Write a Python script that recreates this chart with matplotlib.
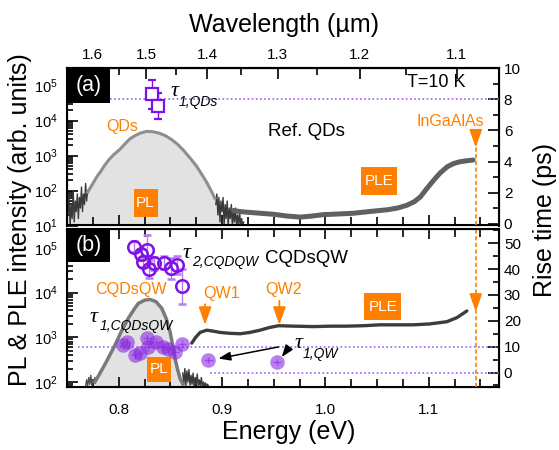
import numpy as np
import matplotlib.pyplot as plt
from matplotlib.patches import Rectangle
from matplotlib.ticker import MultipleLocator, FixedLocator, NullFormatter

plt.rcParams['font.family'] = ['Liberation Sans', 'DejaVu Sans']
plt.rcParams['mathtext.fontset'] = 'custom'
plt.rcParams['mathtext.rm'] = 'Liberation Sans'
plt.rcParams['mathtext.it'] = 'Liberation Sans:italic'

# ---------------- data (energy in eV, intensity as log10, times in ps)
# (a) reference QDs
pl_a_noise_l_E = [0.751, 0.752, 0.753, 0.754, 0.755, 0.756, 0.757, 0.758, 0.759, 0.760,
                  0.761, 0.762, 0.763, 0.764, 0.765, 0.766, 0.767, 0.768, 0.769, 0.770]
pl_a_noise_l_logI = [1.3, 1.9, 1.0, 1.6, 1.2, 2.0, 1.1, 1.7, 1.4, 1.9,
                     1.2, 1.8, 1.5, 2.1, 1.4, 1.9, 1.6, 2.2, 1.7, 2.0]
pl_a_E = [0.770, 0.773, 0.776, 0.779, 0.782, 0.786, 0.790, 0.795, 0.801, 0.806, 0.811, 0.816, 0.821,
          0.827, 0.833, 0.839, 0.845, 0.851, 0.857, 0.863, 0.869, 0.875, 0.880, 0.885, 0.889, 0.893]
pl_a_logI = [1.95, 2.10, 2.25, 2.40, 2.52, 2.70, 2.86, 3.02, 3.17, 3.33, 3.48, 3.57, 3.64,
             3.69, 3.68, 3.64, 3.57, 3.46, 3.32, 3.14, 2.93, 2.71, 2.48, 2.24, 2.02, 1.78]
pl_a_noise_r_E = [0.894, 0.895, 0.896, 0.897, 0.898, 0.899, 0.900, 0.901, 0.902, 0.903, 0.904, 0.905,
                  0.906, 0.907, 0.908, 0.909, 0.910, 0.911, 0.912, 0.913, 0.914, 0.915, 0.916, 0.917,
                  0.918, 0.919, 0.920, 0.921]
pl_a_noise_r_logI = [1.6, 1.9, 1.3, 1.8, 1.1, 1.7, 1.4, 1.8, 1.0, 1.6, 1.2, 1.7,
                     1.0, 1.5, 1.2, 1.6, 1.0, 1.4, 1.1, 1.5, 1.0, 1.3, 1.0, 1.4,
                     1.0, 1.2, 1.0, 1.1]
ple_a_E = [0.911, 0.917, 0.924, 0.937, 0.950, 0.963, 0.976, 0.987, 0.998, 1.013, 1.027, 1.043,
           1.060, 1.070, 1.079, 1.086, 1.092, 1.098, 1.105, 1.111, 1.118, 1.124, 1.130, 1.137, 1.143]
ple_a_logI = [1.43, 1.40, 1.38, 1.35, 1.32, 1.27, 1.24, 1.27, 1.31, 1.33, 1.35, 1.40,
              1.45, 1.50, 1.58, 1.68, 1.82, 2.05, 2.30, 2.50, 2.68, 2.77, 2.82, 2.85, 2.87]
tau1_qd_E = [0.832, 0.838]
tau1_qd_ps = [8.32, 7.57]
tau1_qd_err = [0.93, 0.82]

# (b) CQDsQW
pl_b_noise_l_E = [0.768, 0.769, 0.770, 0.771, 0.772, 0.773, 0.774, 0.775, 0.776, 0.777]
pl_b_noise_l_logI = [1.90, 2.05, 1.92, 2.10, 1.95, 2.15, 1.93, 2.05, 2.00, 2.10]
pl_b_E = [0.777, 0.782, 0.788, 0.7965, 0.803, 0.8094, 0.815, 0.819, 0.825, 0.830, 0.836,
          0.8417, 0.846, 0.8497, 0.852, 0.8545, 0.857, 0.8594, 0.862]
pl_b_logI = [2.0, 2.2, 2.45, 2.83, 3.15, 3.43, 3.63, 3.76, 3.83, 3.85, 3.80,
             3.65, 3.42, 3.13, 2.85, 2.53, 2.28, 2.08, 1.95]
pl_b_noise_r_E = [0.862, 0.863, 0.864, 0.865, 0.866, 0.867, 0.868, 0.869, 0.870, 0.871, 0.872, 0.873, 0.874,
                  0.875, 0.876, 0.877, 0.878, 0.879, 0.880, 0.881, 0.882, 0.883, 0.884, 0.885, 0.886, 0.887]
pl_b_noise_r_logI = [2.2, 1.95, 2.3, 1.92, 2.25, 2.0, 2.28, 1.93, 2.15, 1.95, 2.2, 1.9, 2.1,
                     1.95, 2.18, 1.9, 2.05, 1.92, 2.1, 1.9, 2.0, 1.9, 1.98, 1.9, 1.95, 1.9]
ple_b_E = [0.8707, 0.8745, 0.8788, 0.8852, 0.891, 0.8981, 0.9075, 0.9175, 0.927, 0.9368, 0.946, 0.9546,
           0.970, 0.9884, 1.005, 1.0208, 1.037, 1.053, 1.069, 1.0852, 1.101, 1.1176, 1.1272, 1.1369]
ple_b_logI = [2.87, 3.00, 3.11, 3.16, 3.14, 3.11, 3.09, 3.08, 3.11, 3.16, 3.22, 3.26,
              3.25, 3.24, 3.25, 3.25, 3.26, 3.28, 3.28, 3.28, 3.30, 3.35, 3.44, 3.59]
tau2_E = [0.8152, 0.8271, 0.8216, 0.8239, 0.8345, 0.8297, 0.8442, 0.8507, 0.8562, 0.8616]
tau2_ps = [48.7, 47.4, 45.7, 42.9, 42.2, 39.9, 42.5, 40.3, 41.6, 33.4]
tau2_err = [2.0, 5.8, 2.0, 2.0, 2.5, 3.5, 2.5, 4.0, 3.5, 6.8]
tau1_cqd_E = [0.8045, 0.8078, 0.8158, 0.8207, 0.8271, 0.8287, 0.8362, 0.8432, 0.8475, 0.8546, 0.8616]
tau1_cqd_ps = [10.6, 11.9, 6.7, 7.4, 13.2, 9.9, 11.9, 9.9, 9.0, 8.0, 10.9]
tau1_qw_E = [0.8868, 0.953]
tau1_qw_ps = [4.8, 4.1]

inGaAlAs_E = 1.1455
qw1_E, qw2_E = 0.8836, 0.9555

orange = '#ff8000'
purple = '#8010e8'
violet = '#8a2be2'
dotc = '#a060f0'

# ---------------- figure
W, H = 559, 450
fig = plt.figure(figsize=(W / 100, H / 100), dpi=100)
ax_a = fig.add_axes([67 / W, 1 - 225.5 / H, 432 / W, 157.5 / H])
ax_b = fig.add_axes([67 / W, 1 - 387 / H, 432 / W, 158 / H])
ax_ar = ax_a.twinx()
ax_br = ax_b.twinx()

for ax in (ax_a, ax_b):
    ax.set_yscale('log')
    ax.set_xlim(0.75, 1.168)
    ax.xaxis.set_major_locator(FixedLocator([0.8, 0.9, 1.0, 1.1]))
    ax.xaxis.set_minor_locator(MultipleLocator(0.025))
    ax.tick_params(axis='x', which='both', direction='in', top=(ax is ax_b), bottom=True,
                   labelsize=11, pad=11.5, width=1.2)
    ax.tick_params(axis='x', which='major', length=7)
    ax.tick_params(axis='x', which='minor', length=6)
    ax.tick_params(axis='y', which='both', direction='in', right=False, labelsize=10.5, pad=7, width=1.2)
    ax.tick_params(axis='y', which='major', length=8)
    ax.tick_params(axis='y', which='minor', length=4.5)
    for s in ax.spines.values():
        s.set_linewidth(1.5)
ax_a.set_ylim(10, 10 ** 5.5)
ax_b.set_ylim(10 ** 1.888, 10 ** 5.425)
ax_a.tick_params(axis='x', labelbottom=False)

ax_ar.set_ylim(-0.1, 10)
ax_ar.yaxis.set_major_locator(MultipleLocator(2))
ax_ar.yaxis.set_minor_locator(MultipleLocator(1))
ax_br.set_ylim(-5.6, 55.5)
ax_br.yaxis.set_major_locator(MultipleLocator(10))
ax_br.yaxis.set_minor_locator(MultipleLocator(5))
for ax in (ax_ar, ax_br):
    ax.tick_params(axis='y', which='both', direction='in', labelsize=11, pad=3.5, width=1.2)
    ax.tick_params(axis='y', which='major', length=8)
    ax.tick_params(axis='y', which='minor', length=4.5)
    ax.set_xlim(0.75, 1.168)

# top wavelength axis
secax = ax_a.secondary_xaxis('top', functions=(lambda e: 1.2398 / np.clip(e, 0.1, None),
                                               lambda l: 1.2398 / np.clip(l, 0.1, None)))
secax.xaxis.set_major_locator(FixedLocator([1.1, 1.2, 1.3, 1.4, 1.5, 1.6]))
secax.xaxis.set_minor_locator(FixedLocator([1.15, 1.25, 1.35, 1.45, 1.55]))
secax.xaxis.set_minor_formatter(NullFormatter())
secax.tick_params(which='both', direction='in', labelsize=11, pad=4, width=1.2)
secax.tick_params(which='major', length=8)
secax.tick_params(which='minor', length=5)
secax.spines['top'].set_linewidth(1.5)


def fill_pl(ax, E, logI, bottom):
    ax.fill_between(E, 10 ** np.array(logI), bottom, color='#e2e2e2', lw=0, zorder=1)


# ---------------- panel (a)
E_all = pl_a_noise_l_E + pl_a_E + pl_a_noise_r_E
L_all = pl_a_noise_l_logI + pl_a_logI + pl_a_noise_r_logI
fill_pl(ax_a, E_all, L_all, 10)
ax_a.plot(pl_a_noise_l_E, 10 ** np.array(pl_a_noise_l_logI), color='#3a3a3a', lw=1.0, zorder=2)
ax_a.plot(pl_a_noise_r_E, 10 ** np.array(pl_a_noise_r_logI), color='#3a3a3a', lw=1.0, zorder=2)
ax_a.plot(pl_a_E, 10 ** np.array(pl_a_logI), color='#8e8e8e', lw=2.2, zorder=3)
ax_a.plot(ple_a_E, 10 ** np.array(ple_a_logI), color='#606060', lw=3.6, solid_capstyle='round', zorder=3)

# ---------------- panel (b)
E_all = pl_b_noise_l_E + pl_b_E + pl_b_noise_r_E
L_all = pl_b_noise_l_logI + pl_b_logI + pl_b_noise_r_logI
fill_pl(ax_b, E_all, L_all, 10 ** 1.888)
ax_b.plot(pl_b_noise_l_E, 10 ** np.array(pl_b_noise_l_logI), color='#505050', lw=1.0, zorder=2)
ax_b.plot(pl_b_noise_r_E, 10 ** np.array(pl_b_noise_r_logI), color='#3a3a3a', lw=1.0, zorder=2)
ax_b.plot(pl_b_E, 10 ** np.array(pl_b_logI), color='#7a7a7a', lw=2.5, zorder=3)
ax_b.plot(ple_b_E, 10 ** np.array(ple_b_logI), color='#3c3c3c', lw=2.4, solid_capstyle='round', zorder=3)

# dotted reference lines
ax_ar.plot([0.792, 1.168], [8, 8], color=dotc, lw=1.2, ls=(0, (1, 1.5)))
ax_br.plot([0.7606, 1.168], [10, 10], color=dotc, lw=1.2, ls=(0, (1, 1.5)))
ax_br.plot([0.8884, 1.168], [0, 0], color=dotc, lw=1.2, ls=(0, (1, 1.5)))

# rise time markers
ax_ar.errorbar(tau1_qd_E, tau1_qd_ps, yerr=tau1_qd_err, xerr=0.005, fmt='s', ms=8, mfc='white',
               mec=purple, mew=1.6, ecolor=purple, elinewidth=1.0, capsize=3, zorder=5)
ax_br.errorbar(tau2_E, tau2_ps, yerr=tau2_err, fmt='o', ms=9, mfc='none', mec=purple, mew=1.8,
               ecolor='#b080f0', elinewidth=1.0, capsize=3, zorder=5)
ax_br.errorbar(tau1_cqd_E, tau1_cqd_ps, yerr=1.5, xerr=0.004, fmt='o', ms=10.5, color=violet,
               alpha=0.6, mew=0, elinewidth=1.0, capsize=0, zorder=5)
ax_br.errorbar(tau1_qw_E, tau1_qw_ps, yerr=1.2, xerr=0.004, fmt='o', ms=10.5, color=violet,
               alpha=0.6, mew=0, elinewidth=1.0, capsize=0, zorder=5)


def tau_label(ax, x, y, sub, dx, dy):
    ax.text(x, y, '\u03c4', fontsize=16, family=['Liberation Serif', 'DejaVu Serif'], style='italic',
            ha='center', va='center', zorder=6)
    ax.annotate(sub, xy=(x, y), xytext=(dx, dy), textcoords='offset points', fontsize=10,
                style='italic', ha='left', va='center', zorder=6)


tau_label(ax_ar, 0.8536, 8.5, '1,QDs', 3.5, -7.5)
tau_label(ax_br, 0.8655, 46.2, '2,CQDQW', 4, -6.5)
tau_label(ax_br, 0.776, 21.2, '1,CQDsQW', 4, -6)
tau_label(ax_br, 0.9736, 11.2, '1,QW', 3.5, -7.5)

arrow_k = dict(arrowstyle='-|>,head_length=0.6,head_width=0.22', color='black',
               lw=1.1, mutation_scale=12, shrinkA=0, shrinkB=0)
ax_br.annotate('', xy=(0.8965, 5.4), xytext=(0.9546, 9.9), arrowprops=arrow_k)
ax_br.annotate('', xy=(0.9578, 6.0), xytext=(0.964, 9.3), arrowprops=arrow_k)


def tag_box(ax, x, y, w, h, label, fs=11):
    cx, cy = ax.transAxes.inverted().transform(ax.transData.transform((x, y)))
    wa, ha_ = w / ax.bbox.width, h / ax.bbox.height
    ax.add_patch(Rectangle((cx - wa / 2, cy - ha_ / 2), wa, ha_, transform=ax.transAxes,
                           facecolor=orange, edgecolor='none', zorder=7))
    ax.text(cx, cy, label, transform=ax.transAxes, color='white', fontsize=fs,
            ha='center', va='center', zorder=8)


def panel_tag(ax, label, h):
    wa, ha_ = 43 / ax.bbox.width, h / ax.bbox.height
    ax.add_patch(Rectangle((0, 1 - ha_), wa, ha_, transform=ax.transAxes, facecolor='black',
                           edgecolor='none', zorder=9, clip_on=False))
    ax.text(wa / 2, 1 - ha_ / 2, label, transform=ax.transAxes, color='white', fontsize=15.5,
            ha='center', va='center', zorder=10)


tag_box(ax_a, 0.826, 10 ** 1.65, 24, 28, 'PL')
tag_box(ax_a, 1.0518, 10 ** 2.27, 36, 28, 'PLE')
tag_box(ax_b, 0.8389, 10 ** 2.29, 24, 25, 'PL')
tag_box(ax_b, 1.0556, 10 ** 3.69, 37, 27, 'PLE')
panel_tag(ax_ar, '(a)', 35)
panel_tag(ax_br, '(b)', 33)

# text labels
ax_a.text(0.8037, 10 ** 3.83, 'QDs', color=orange, fontsize=11.5, ha='center', va='center')
ax_a.text(0.982, 10 ** 3.69, 'Ref. QDs', color='black', fontsize=13.5, ha='center', va='center')
ax_a.text(1.1208, 10 ** 3.98, 'InGaAlAs', color=orange, fontsize=11.5, ha='center', va='center')
ax_ar.text(1.1356, 9.08, 'T=10 K', color='black', fontsize=13, ha='right', va='center')
ax_b.text(0.982, 10 ** 4.77, 'CQDsQW', color='black', fontsize=13.5, ha='center', va='center')
ax_b.text(0.812, 10 ** 4.06, 'CQDsQW', color=orange, fontsize=11.6, ha='center', va='center')
ax_b.text(0.8997, 10 ** 3.99, 'QW1', color=orange, fontsize=11.6, ha='center', va='center')
ax_b.text(0.9594, 10 ** 4.06, 'QW2', color=orange, fontsize=11.6, ha='center', va='center')

arrow_o = dict(arrowstyle='-|>,head_length=0.9,head_width=0.32', color=orange, lw=1.3,
               mutation_scale=12, shrinkA=0, shrinkB=0)
ax_b.annotate('', xy=(qw1_E, 10 ** 3.28), xytext=(qw1_E, 10 ** 3.74), arrowprops=arrow_o, zorder=6)
ax_b.annotate('', xy=(qw2_E, 10 ** 3.28), xytext=(qw2_E, 10 ** 3.82), arrowprops=arrow_o, zorder=6)

# InGaAlAs dashed marker through both panels
ax_ar.plot([inGaAlAs_E, inGaAlAs_E], [-0.1, 5.2], color=orange, lw=1.2, ls=(0, (2.5, 1.5)))
ax_ar.annotate('', xy=(inGaAlAs_E, 4.9), xytext=(inGaAlAs_E, 5.95), arrowprops=arrow_o)
ax_br.axvline(inGaAlAs_E, color=orange, lw=1.2, ls=(0, (2.5, 1.5)))
ax_br.annotate('', xy=(inGaAlAs_E, 23.5), xytext=(inGaAlAs_E, 30.5), arrowprops=arrow_o)

# axis titles
fig.text(283.6 / W, 1 - 25 / H, 'Wavelength (\u00b5m)', fontsize=18, ha='center', va='center')
fig.text(289 / W, 1 - 431.7 / H, 'Energy (eV)', fontsize=18, ha='center', va='center')
fig.text(20 / W, 1 - 220 / H, 'PL & PLE intensity (arb. units)', fontsize=18, rotation=90,
         ha='center', va='center')
fig.text(545 / W, 1 - 220 / H, 'Rise time (ps)', fontsize=18, rotation=90, ha='center', va='center')

fig.savefig('out.png', dpi=100)
